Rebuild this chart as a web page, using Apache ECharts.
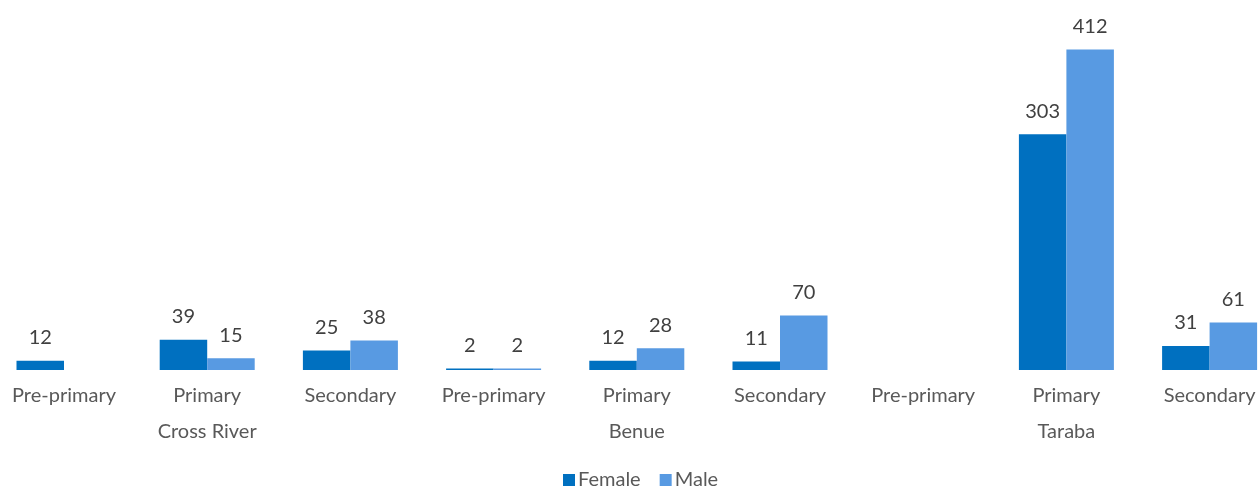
<!DOCTYPE html>
<html><head><meta charset="utf-8">
<script src="https://cdn.jsdelivr.net/npm/echarts@6/dist/echarts.min.js"></script>
<style>html,body{margin:0;padding:0;background:#fff}#c{width:1259px;height:488px}</style>
</head><body><div id="c"></div>
<script>
const categories = ["Pre-primary","Primary","Secondary","Pre-primary","Primary","Secondary","Pre-primary","Primary","Secondary"];
const groups = ["Cross River","Benue","Taraba"];
const female = [12, 39, 25, 2, 12, 11, null, 303, 31];
const male = [null, 15, 38, 2, 28, 70, null, 412, 61];

const FONT = 'Lato';
const chart = echarts.init(document.getElementById('c'));
const lbl = {show:true, position:'top', distance:13, color:'#404040', fontSize:20, fontFamily:FONT};
chart.setOption({
  animation:false,
  grid:{left:-7.6, width:1288.8, top:20, height:350, containLabel:false, outerBoundsMode:'none'},
  legend:{top:470, left:563, padding:0, itemWidth:12, itemHeight:12, itemGap:19,
    icon:'rect', textStyle:{color:'#595959', fontSize:20, fontFamily:FONT, padding:[0,0,0,-2]}, data:['Female','Male']},
  xAxis:[
    {type:'category', data:categories, axisLine:{show:false}, axisTick:{show:false},
     axisLabel:{color:'#595959', fontSize:20, fontFamily:FONT, margin:16, interval:0}},
    {type:'category', data:groups, position:'bottom', offset:36, axisLine:{show:false}, axisTick:{show:false},
     axisLabel:{color:'#595959', fontSize:20, fontFamily:FONT, margin:16, interval:0}}
  ],
  yAxis:{type:'value', min:0, max:450, show:false, splitLine:{show:false}},
  series:[
    {name:'Female', type:'bar', data:female, barWidth:47.5, barGap:'0%', itemStyle:{color:'#0070C0'}, label:lbl},
    {name:'Male', type:'bar', data:male, barWidth:47.5, barGap:'0%', itemStyle:{color:'#589AE2'}, label:lbl}
  ]
});
</script></body></html>
